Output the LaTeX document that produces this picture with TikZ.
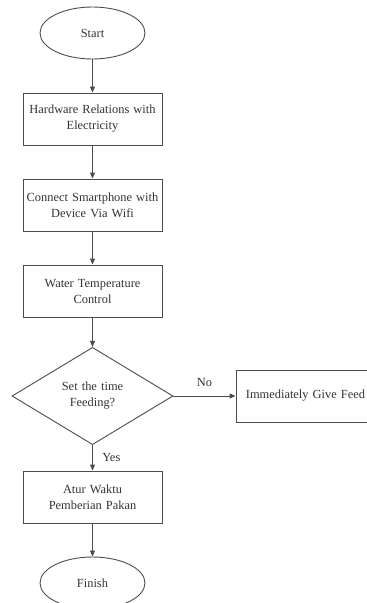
\documentclass[tikz,border=0pt]{standalone}
\usepackage{fontspec}
\setmainfont{Liberation Serif}
\usetikzlibrary{shapes.geometric,arrows.meta}
\begin{document}
\begin{tikzpicture}[x=1pt,y=-1pt,
  every node/.style={font=\fontsize{12.4}{16}\selectfont,text=black!80},
  line/.style={draw=black!70,line width=0.9pt},
  term/.style={line,ellipse,minimum width=105pt,minimum height=52pt,inner sep=0pt},
  proc/.style={line,rectangle,minimum width=139pt,minimum height=52pt,text width=139pt,align=center,inner sep=0pt},
  dec/.style={line,diamond,minimum width=161pt,minimum height=89pt,text width=70pt,align=center,inner sep=0pt},
  arr/.style={line,-{Triangle[length=6pt,width=5pt]}}]
\clip(0,0)rectangle(367,603);
\node[term](start)at(92.5,33){Start};
\node[proc](hw)at(92.5,119){Hardware Relations with\\Electricity};
\node[proc](conn)at(92.5,205){Connect Smartphone with\\Device Via Wifi};
\node[proc](water)at(92.5,291){Water Temperature\\Control};
\node[dec](ask)at(92.5,396){Set the time\\Feeding?};
\node[proc](feed)at(305.5,396){Immediately Give Feed};
\node[proc](atur)at(92.5,497){Atur Waktu\\Pemberian Pakan};
\node[term](finish)at(92.5,583){Finish};
%
\draw[arr](start)--(hw);
\draw[arr](hw)--(conn);
\draw[arr](conn)--(water);
\draw[arr](water)--(ask);
\draw[arr](ask)--node[above=6pt]{No}(feed);
\draw[arr](ask)--node[right=6pt]{Yes}(atur);
\draw[arr](atur)--(finish);
\end{tikzpicture}
\end{document}
